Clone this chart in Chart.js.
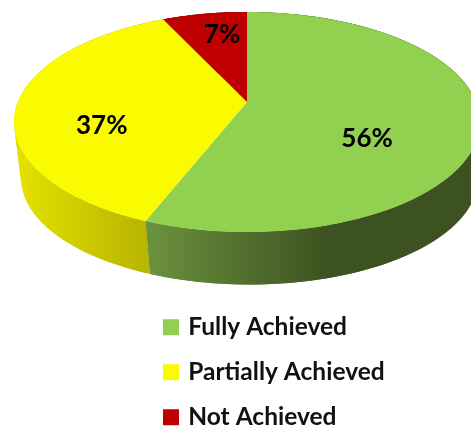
<!DOCTYPE html>
<html>
<head>
<meta charset="utf-8">
<title>Achievement pie</title>
<script src="https://cdn.jsdelivr.net/npm/chart.js@4"></script>
<style>
  html, body { margin: 0; padding: 0; background: #fff; overflow: hidden; }
  #myChart { display: block; }
</style>
</head>
<body>
<canvas id="myChart" width="471" height="426"></canvas>
<script>
// Chart data
const categories = ["Fully Achieved", "Partially Achieved", "Not Achieved"];
const percentValues = [56, 37, 7];
const sliceColors = ["#92D050", "#FAFA00", "#C00000"];

// Side wall shading, light end then dark end, for each slice
const wallLight = ["#6B913E", "#E4E100", "#900000"];
const wallDark = ["#3D5221", "#B8B400", "#600000"];
const wallFrom = [149, 16, 160];
const wallTo = [330, 149, 250];

// Perspective of the pie, the far half gets squeezed
const topFace = { cx: 247, cy: 102, rx: 229, ry: 106.4, tilt: 0.1818 };
const bottomFace = { cx: 249.5, cy: 159, rx: 224.5, ry: 102.7, tilt: 0.1818 };

// Nudge of the % labels from the middle of their slice
const labelNudge = [[-6, 25], [-19, 22], [10, 5]];

function project(face, angle, r) {
  const u = Math.cos(angle) * r;
  const v = Math.sin(angle) * r;
  const w = 1 - face.tilt * v;
  return { x: face.cx + face.rx * u / w, y: face.cy + face.ry * v / w };
}

// Angles along the arc, about one degree apart
function arcAngles(start, end) {
  const steps = Math.max(2, Math.ceil((end - start) / (Math.PI / 180)));
  const list = [];
  for (let i = 0; i <= steps; i++) {
    list.push(start + (end - start) * i / steps);
  }
  return list;
}

const pie3d = {
  id: "pie3d",
  afterLayout(chart) {
    // legend runs down to the bottom edge of the page
    chart.legend.bottom += 24;
  },
  beforeDatasetsDraw(chart) {
    const ctx = chart.ctx;
    const arcs = chart.getDatasetMeta(0).data;

    // Walls first, the top face then covers the back part of them
    arcs.forEach((arc, i) => {
      const angles = arcAngles(arc.startAngle, arc.endAngle);
      const grad = ctx.createLinearGradient(wallFrom[i], 0, wallTo[i], 0);
      grad.addColorStop(0, wallLight[i]);
      grad.addColorStop(1, wallDark[i]);
      ctx.fillStyle = grad;
      // one small overlapping quad per step, a single path cancels out where the wall folds
      for (let k = 0; k < angles.length - 1; k++) {
        const a = angles[k];
        const b = angles[Math.min(k + 2, angles.length - 1)];
        const p1 = project(topFace, a, 1);
        const p2 = project(topFace, b, 1);
        const p3 = project(bottomFace, b, 1);
        const p4 = project(bottomFace, a, 1);
        ctx.beginPath();
        ctx.moveTo(p1.x, p1.y);
        ctx.lineTo(p2.x, p2.y);
        ctx.lineTo(p3.x, p3.y);
        ctx.lineTo(p4.x, p4.y);
        ctx.closePath();
        ctx.fill();
      }
    });

    // Top face
    arcs.forEach((arc, i) => {
      ctx.beginPath();
      ctx.moveTo(topFace.cx, topFace.cy);
      arcAngles(arc.startAngle, arc.endAngle).forEach(a => {
        const p = project(topFace, a, 1);
        ctx.lineTo(p.x, p.y);
      });
      ctx.closePath();
      ctx.fillStyle = sliceColors[i];
      ctx.fill();
    });

    // % labels
    ctx.font = "bold 26px Lato";
    ctx.fillStyle = "#000";
    ctx.textAlign = "center";
    ctx.textBaseline = "middle";
    arcs.forEach((arc, i) => {
      const p = project(topFace, (arc.startAngle + arc.endAngle) / 2, i == 2 ? 0.8 : 0.55);
      ctx.fillText(percentValues[i] + "%", p.x + labelNudge[i][0], p.y + labelNudge[i][1]);
    });
    return false;
  }
};

const myChart = document.getElementById("myChart");

new Chart(myChart, {
  type: "pie",
  data: {
    labels: categories,
    datasets: [{
      data: percentValues,
      backgroundColor: sliceColors,
      // the border only thickens the legend squares, the slices are drawn by pie3d
      borderColor: sliceColors,
      borderWidth: 6
    }]
  },
  options: {
    responsive: false,
    animation: false,
    layout: { padding: { left: 145.5 } },
    plugins: {
      tooltip: { enabled: false },
      legend: {
        position: "chartArea",
        align: "end",
        labels: {
          boxWidth: 10,
          boxHeight: 10,
          padding: 20.5,
          color: "#111",
          font: { family: "Lato", weight: "bold", size: 24.5 }
        }
      }
    }
  },
  plugins: [pie3d]
});
</script>
</body>
</html>
